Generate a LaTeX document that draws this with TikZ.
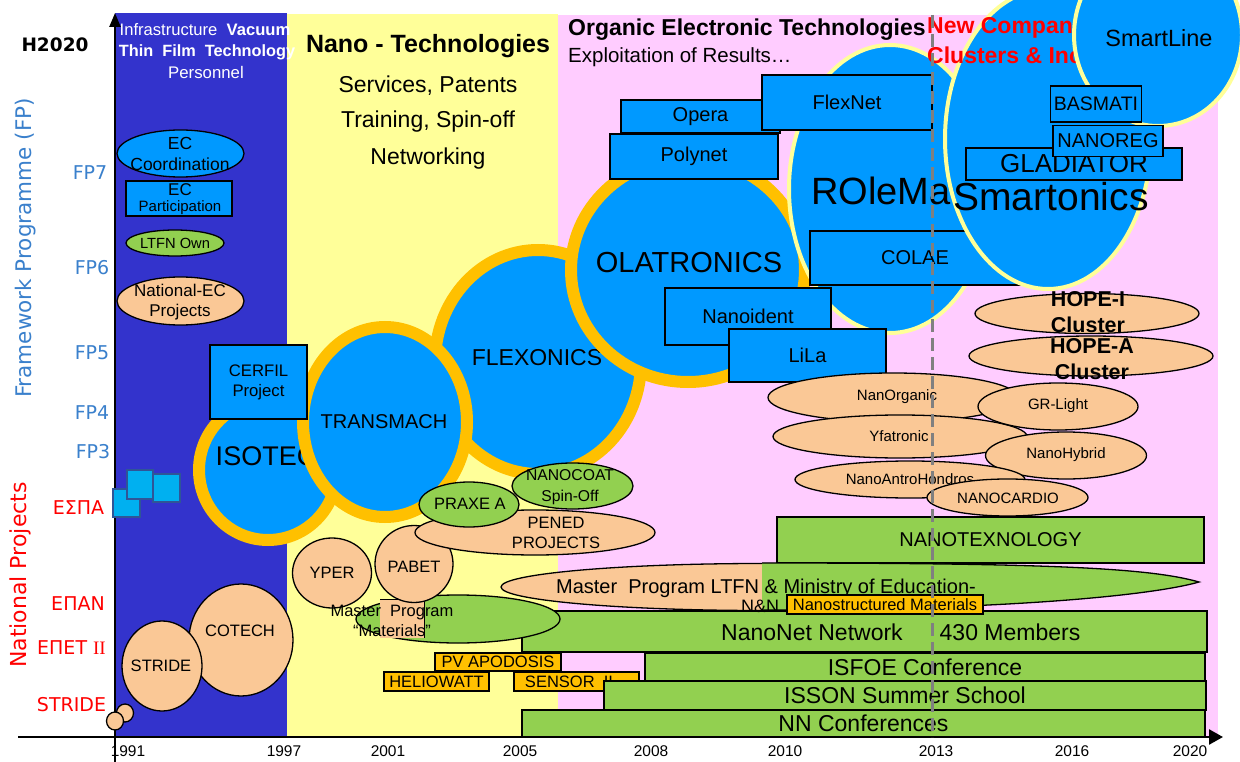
\documentclass[tikz,border=0pt]{standalone}
\usepackage{fontspec}
\setmainfont{Liberation Sans}
\newfontfamily\dvs{DejaVu Sans}
\newfontfamily\lser{Liberation Serif}
\usetikzlibrary{arrows.meta}
\newcommand{\fsz}[2]{\fontsize{#1}{#2}\selectfont}
\definecolor{bandblue}{HTML}{3333CC}
\definecolor{bandyel}{HTML}{FFFF99}
\definecolor{bandpink}{HTML}{FFCCFF}
\definecolor{sblue}{HTML}{0099FF}
\definecolor{ringc}{HTML}{FFC000}
\definecolor{peach}{HTML}{FAC896}
\definecolor{lgreen}{HTML}{92D050}
\definecolor{obox}{HTML}{FFC000}
\definecolor{sqblue}{HTML}{00B0F0}
\definecolor{sqedge}{HTML}{2F5597}
\definecolor{fpblue}{HTML}{3A80CC}
\definecolor{pale}{HTML}{FFFF99}
\definecolor{dgray}{HTML}{808080}
\begin{document}
\begin{tikzpicture}[x=1pt,y=-1pt,
  bluebox/.style={draw=black,line width=1.4pt,fill=sblue,inner sep=0pt,align=center,font={\fsz{20}{24}}},
  greenbox/.style={draw=black,line width=1.4pt,fill=lgreen,inner sep=0pt,align=center,font={\fsz{23}{26}}},
  orangebox/.style={draw=black,line width=1.3pt,fill=obox,inner sep=0pt,align=center,font={\fsz{16.5}{18}}},
  sqbox/.style={draw=sqedge,line width=1.2pt,fill=sqblue,inner sep=0pt},
  txt/.style={inner sep=0pt,align=center},
  peachshape/.style={draw=black,line width=1.3pt,fill=peach},
  greenshape/.style={draw=black,line width=1.3pt,fill=lgreen},
  ringshape/.style={draw=ringc,line width=12pt,fill=sblue},
  paleshape/.style={draw=pale,line width=4pt,fill=sblue},
  fplabel/.style={inner sep=0pt,font={\dvs\fsz{19}{22}},text=fpblue},
  natlabel/.style={inner sep=0pt,font={\dvs\fsz{19}{22}},text=red},
  yearlabel/.style={inner sep=0pt,font={\fsz{15.5}{17}}},
  axisline/.style={line width=2.5pt,black},
  dashline/.style={dgray,line width=3pt,dash pattern=on 13pt off 6pt}
]
\useasboundingbox (0,0) rectangle (1240,762);
\clip (0,0) rectangle (1240,762);
\fill[white] (0,0) rectangle (1240,762);
% bands
\fill[bandblue] (115,13) rectangle (287,737);
\fill[bandyel] (287,14) rectangle (558,737);
\fill[bandpink] (558,15) rectangle (1218,737);
% axes
\coordinate (xs) at (18,737);
\coordinate (xe) at (1223,737);
\coordinate (ys) at (115,762);
\coordinate (ye) at (115,13);
\draw[axisline,-{Triangle[length=14pt,width=15pt]}] (xs) -- (xe);
\draw[axisline,-{Triangle[length=14pt,width=11pt]}] (ys) -- (ye);
% top texts
\node[txt,font={\fsz{16.6}{19}},text=white] (infra1) at (205,30) {Infrastructure~~\textbf{Vacuum}};
\node[txt,font={\bfseries\fsz{16.3}{19}},text=white] (infra2) at (207,52) {Thin~~Film~~Technology};
\node[txt,font={\fsz{16.8}{19}},text=white] (infra3) at (206,72) {Personnel};
\node[txt,font={\bfseries\fsz{25}{28}}] (nanot) at (428,46) {Nano - Technologies};
\node[txt,font={\fsz{23}{26}}] (serv) at (428,86) {Services, Patents};
\node[txt,font={\fsz{23}{26}}] (train) at (428,122) {Training, Spin-off};
\node[txt,font={\fsz{23}{26}}] (netw) at (428,159) {Networking};
\node[txt,anchor=west,font={\bfseries\fsz{23}{26}}] (orgt) at (568,30) {Organic Electronic Technologies};
\node[txt,anchor=west,font={\fsz{20.5}{24}}] (expl) at (568,57) {Exploitation of Results…};
% left labels
\node[txt,font={\dvs\bfseries\fsz{18.5}{21}}] (h2020) at (55,45) {H2020};
\node[txt,rotate=90,font={\dvs\fsz{21.5}{24}},text=fpblue] (fwp) at (26,248) {Framework Programme (FP)};
\node[txt,rotate=90,font={\dvs\fsz{22}{24}},text=red] (natp) at (20,575) {National Projects};
\node[fplabel] (fp7) at (90,173) {FP7};
\node[fplabel] (fp6) at (92,268) {FP6};
\node[fplabel] (fp5) at (92,353) {FP5};
\node[fplabel] (fp4) at (92,413) {FP4};
\node[fplabel] (fp3) at (93,452) {FP3};
\node[natlabel] (espa) at (78.5,508) {ΕΣΠΑ};
\node[natlabel] (epan) at (78,604) {ΕΠΑΝ};
\node[natlabel] (epet) at (71.5,648) {ΕΠΕΤ {\lser II}};
\node[natlabel] (stridel) at (71.5,705) {STRIDE};
\foreach \yr/\xx in {1991/128,1997/284,2001/388,2005/520,2008/651,2010/785,2013/936,2016/1072,2020/1190}
  \node[yearlabel] (yr\yr) at (\xx,751) {\yr};
% blue band items
\path[draw=black,line width=1.3pt,fill=sblue] (180.5,153.5) ellipse [x radius=63.5pt,y radius=23.5pt];
\node[txt,font={\fsz{17.5}{21}}] (ecco) at (180,154) {EC\\Coordination};
\node[bluebox,minimum width=106pt,minimum height=35pt] (ecpa) at (179,198.5) {};
\node[txt,font={\fsz{17}{18}}] (ecpa1) at (180,190) {EC};
\node[txt,font={\fsz{15}{18}}] (ecpa2) at (180,208) {Participation};
\path[greenshape] (175,243) ellipse [x radius=49pt,y radius=13pt];
\node[txt,font={\fsz{14.7}{18}}] (ltfn) at (175,243) {LTFN Own};
\path[peachshape] (180.5,301) ellipse [x radius=63.5pt,y radius=24pt];
\node[txt,font={\fsz{17}{20}}] (natec) at (180,302) {National-EC\\Projects};
% squares
\node[sqbox,minimum width=27pt,minimum height=28pt] (sq1) at (126.5,503) {};
\node[sqbox,minimum width=26pt,minimum height=29pt] (sq2) at (140,484.5) {};
\node[sqbox,minimum width=27pt,minimum height=28pt] (sq3) at (166.5,488) {};
% ring projects
\path[ringshape] (268,470) ellipse [x radius=69pt,y radius=70pt];
\node[txt,font={\fsz{27}{30}}] (isotec) at (266,456) {ISOTEC};
\path[ringshape] (538,362) ellipse [x radius=103pt,y radius=112pt];
\node[txt,font={\fsz{23}{26}}] (flex) at (537,358) {FLEXONICS};
\path[ringshape] (385,422) ellipse [x radius=82pt,y radius=95pt];
\node[txt,font={\fsz{20}{24}}] (transm) at (384,422) {TRANSMACH};
\node[bluebox,minimum width=97pt,minimum height=74pt,font={\fsz{16.7}{20}}] (cerfil) at (258.5,382) {CERFIL\\Project};
\path[ringshape] (688,270) ellipse [x radius=117pt,y radius=112pt];
\node[txt,font={\fsz{29}{32}}] (olat) at (689,263) {OLATRONICS};
% ROleMa
\path[paleshape] (890,189) ellipse [x radius=101pt,y radius=144pt];
\node[txt,anchor=west,font={\fsz{38}{42}}] (rolema) at (811,191) {ROleMa};
% blue boxes
\node[bluebox,minimum width=159pt,minimum height=33pt] (opera) at (700.5,116.5) {Opera};
\node[bluebox,minimum width=170pt,minimum height=55pt] (flexnet) at (847,102.5) {FlexNet};
\node[bluebox,minimum width=168pt,minimum height=45pt] (polynet) at (694,156.5) {Polynet};
\node[bluebox,minimum width=210pt,minimum height=54pt] (colae) at (915,258) {COLAE};
\node[bluebox,minimum width=166pt,minimum height=57pt] (nanoid) at (748,316.5) {Nanoident};
\node[bluebox,minimum width=157pt,minimum height=53pt] (lila) at (807.5,355.5) {LiLa};
% Smartonics
\path[paleshape] (1048,139) ellipse [x radius=103pt,y radius=150pt];
\node[txt,font={\fsz{39}{44}}] (smarton) at (1051,197) {Smartonics};
\node[txt,anchor=west,font={\bfseries\fsz{23}{26}},text=red] (newc) at (927,28) {New Compan};
\node[txt,anchor=west,font={\bfseries\fsz{23}{26}},text=red] (clus) at (927,55) {Clusters \& Inc};
\path[paleshape] (1158,35) ellipse [x radius=84pt,y radius=91pt];
\node[txt,font={\fsz{23.5}{28}}] (smartl) at (1159,38) {SmartLine};
\node[bluebox,minimum width=216pt,minimum height=32pt,font={\fsz{26}{30}}] (glad) at (1074,164) {GLADIATOR};
\node[bluebox,minimum width=110pt,minimum height=31pt] (nanoreg) at (1108,141) {NANOREG};
\node[bluebox,minimum width=91pt,minimum height=36pt,font={\fsz{19.5}{24}}] (basmati) at (1096,104) {BASMATI};
% right peach ellipses
\path[peachshape] (1087,313.5) ellipse [x radius=112pt,y radius=20pt];
\node[txt,font={\bfseries\fsz{21.5}{26}}] (hopei) at (1088,312) {HOPE-I\\Cluster};
\path[peachshape] (1091,356) ellipse [x radius=122pt,y radius=20pt];
\node[txt,font={\bfseries\fsz{21.5}{26}}] (hopea) at (1092,359) {HOPE-A\\Cluster};
\path[peachshape] (893,397.5) ellipse [x radius=125pt,y radius=24.5pt];
\node[txt,font={\fsz{15}{18}}] (nanorg) at (897,397) {NanOrganic};
\path[peachshape] (900,436.5) ellipse [x radius=127pt,y radius=21.5pt];
\node[txt,font={\fsz{15}{18}}] (yfat) at (899,436) {Yfatronic};
\path[peachshape] (1058,406.5) ellipse [x radius=80pt,y radius=23.5pt];
\node[txt,font={\fsz{15}{18}}] (grl) at (1058,406) {GR-Light};
\path[peachshape] (1066,455.5) ellipse [x radius=80.5pt,y radius=23.5pt];
\node[txt,font={\fsz{15}{18}}] (nhyb) at (1066,455) {NanoHybrid};
\path[peachshape] (910,479.5) ellipse [x radius=115pt,y radius=18.5pt];
\node[txt,font={\fsz{15}{18}}] (nanth) at (910,479) {NanoAntroHondros};
\path[peachshape] (1007.5,497.5) ellipse [x radius=80.5pt,y radius=18.5pt];
\node[txt,font={\fsz{15}{18}}] (ncard) at (1008,498) {NANOCARDIO};
% bottom rows
\node[greenbox,minimum width=427pt,minimum height=46pt,font={\fsz{20}{24}}] (nanotex) at (990.5,540) {NANOTEXNOLOGY};
\path[peachshape] (762,587) ellipse [x radius=261pt,y radius=23.5pt];
\path[fill=lgreen] (762,563) .. controls (1050,563) and (1150,568) .. (1199,582) .. controls (1150,596) and (1000,610) .. (762,610) -- cycle;
\draw[black,line width=1.3pt] (762,563) .. controls (1050,563) and (1150,568) .. (1199,582) .. controls (1150,596) and (1000,610) .. (762,610);
\node[txt,font={\fsz{20}{23}}] (mastertxt) at (766,588) {Master\ \ Program LTFN \& Ministry of Education-};
\node[greenbox,minimum width=685pt,minimum height=41pt] (nanonet) at (864.5,631.5) {};
\node[txt,font={\fsz{23}{26}}] (nnt1) at (812,632) {NanoNet Network};
\node[txt,font={\fsz{23}{26}}] (nnt2) at (1010,632) {430 Members};
\node[orangebox,minimum width=196pt,minimum height=19pt] (nanostr) at (885,604.5) {Nanostructured Materials};
\node[txt,font={\fsz{18}{20}}] (nandn) at (760,606) {N\&N};
% national project shapes
\path[greenshape] (458,619) ellipse [x radius=102pt,y radius=24pt];
\fill[peach] (380,599) rectangle (424,638);
\draw[line width=1pt] (380,599) -- (424,599) -- (424,638);
\path[peachshape] (332,573) ellipse [x radius=39.5pt,y radius=35pt];
\node[txt,font={\fsz{16.5}{20}}] (yper) at (332,573) {YPER};
\path[peachshape] (414,564) ellipse [x radius=39pt,y radius=38.5pt];
\node[txt,font={\fsz{16.5}{20}}] (pabet) at (414,567) {PABET};
\path[peachshape] (535,532.5) ellipse [x radius=120pt,y radius=22.5pt];
\node[txt,font={\fsz{16.5}{20}}] (pened) at (556,533) {PENED\\PROJECTS};
\path[greenshape] (572.5,486) ellipse [x radius=60.5pt,y radius=23pt];
\node[txt,font={\fsz{15.7}{21}}] (ncoat) at (570,487.5) {NANOCOAT\\Spin-Off};
\path[greenshape] (469,504.5) ellipse [x radius=50pt,y radius=22.5pt];
\node[txt,font={\fsz{16.5}{20}}] (praxe) at (470,504) {PRAXE A};
\node[txt,font={\fsz{16.5}{20}}] (mattxt) at (392,621) {Master\ \ Program\\“Materials”};
% orange small boxes and bottom bars
\node[orangebox,minimum width=126pt,minimum height=18pt] (pvapo) at (498,662) {PV APODOSIS};
\node[orangebox,minimum width=105pt,minimum height=19pt] (helio) at (436.5,681.5) {HELIOWATT};
\node[orangebox,minimum width=125pt,minimum height=19pt] (sensor) at (576.5,681.5) {};
\node[txt,font={\fsz{16.5}{18}}] (sensortxt) at (569,681.5) {SENSOR\ \ II};
\node[greenbox,minimum width=560pt,minimum height=28pt] (isfoe) at (925,667) {ISFOE Conference};
\node[greenbox,minimum width=602pt,minimum height=29pt] (isson) at (905,695.5) {ISSON Summer School};
\node[greenbox,minimum width=683pt,minimum height=27pt] (nnconf) at (863.5,723.5) {NN Conferences};
% STRIDE / COTECH
\path[peachshape] (241,640) ellipse [x radius=52pt,y radius=56pt];
\node[txt,font={\fsz{16.5}{20}}] (cotech) at (240,631) {COTECH};
\path[peachshape] (162,666) ellipse [x radius=40pt,y radius=45pt];
\node[txt,font={\fsz{16.5}{20}}] (stride) at (161,666) {STRIDE};
\path[peachshape] (125,713) ellipse [x radius=8.5pt,y radius=9pt];
\path[peachshape] (115,721) ellipse [x radius=8.5pt,y radius=9pt];
% dashed 2013 line
\coordinate (dtop) at (932,15);
\coordinate (dbot) at (932,737);
\draw[dashline] (dtop) -- (dbot);
\end{tikzpicture}
\end{document}
